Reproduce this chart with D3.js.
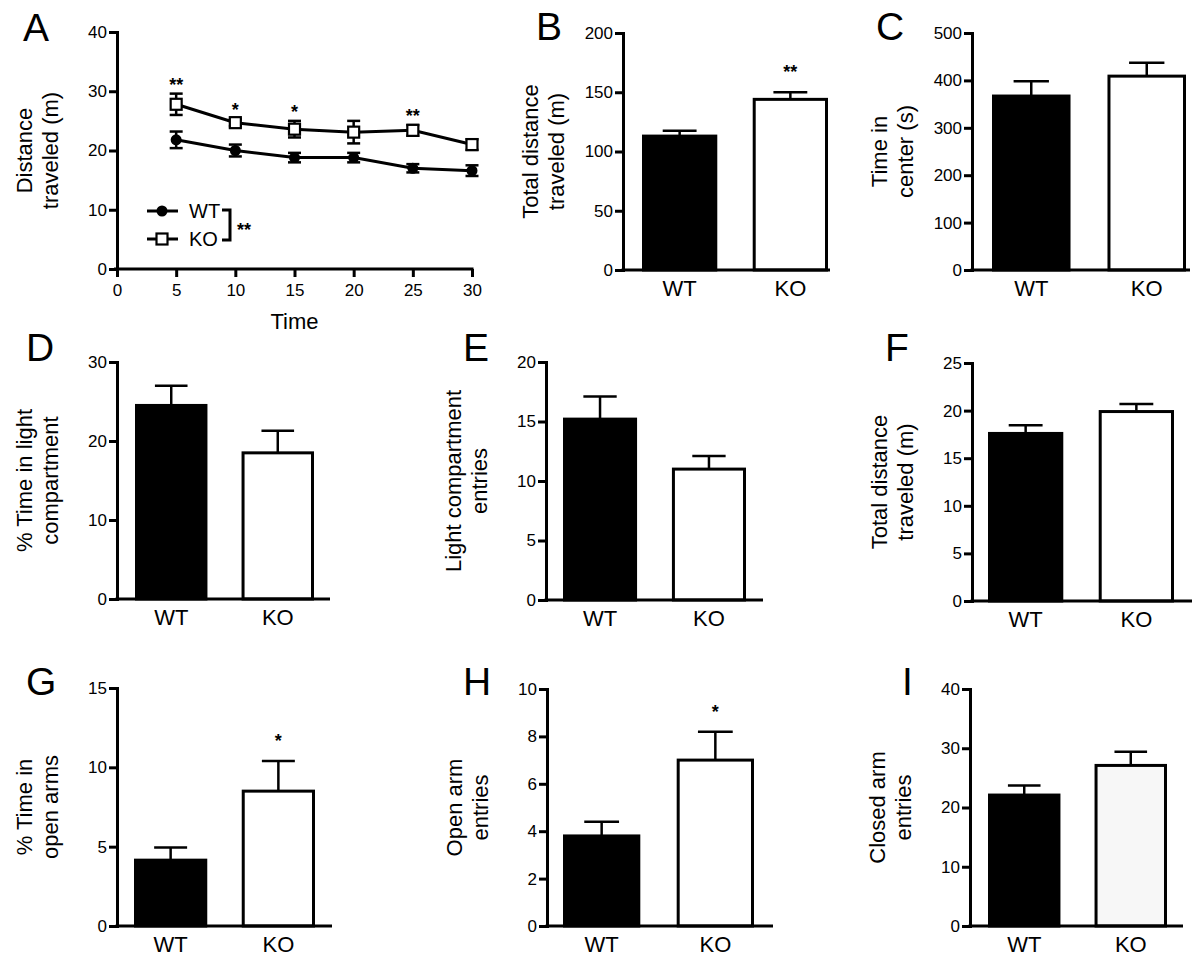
<!DOCTYPE html>
<html>
<head>
<meta charset="utf-8">
<script src="https://cdn.jsdelivr.net/npm/d3@7"></script>
<style>
  html, body { margin: 0; padding: 0; background: #fff; }
  svg { display: block; font-family: "Liberation Sans", Arial, Helvetica, sans-serif; }
</style>
</head>
<body>
<svg id="chart" width="1200" height="968"></svg>
<script>
// ---------------- DATA ----------------
const groups = ["WT", "KO"];

// Panel A: open field distance over time
const timeTicks = [0, 5, 10, 15, 20, 25, 30];
const yTicksA = [0, 10, 20, 30, 40];
const timePoints = [5, 10, 15, 20, 25, 30];
const wtDistance = [21.8, 20.0, 18.8, 18.8, 17.0, 16.6];
const wtDistanceErr = [1.4, 1.0, 0.8, 0.8, 0.7, 0.9];
const koDistance = [27.8, 24.7, 23.6, 23.1, 23.4, 21.0];
const koDistanceErr = [1.8, 0.6, 1.4, 1.9, 0.9, 0.9];
const timeStars = ["**", "*", "*", "", "**", ""];

// Panel B
const totalDistanceOF = [113, 144];
const totalDistanceOFErr = [4.5, 6];
const ticksB = [0, 50, 100, 150, 200];
const starsB = ["", "**"];
// Panel C
const timeInCenter = [367, 409];
const timeInCenterErr = [31, 28];
const ticksC = [0, 100, 200, 300, 400, 500];
// Panel D
const pctTimeLight = [24.5, 18.5];
const pctTimeLightErr = [2.5, 2.8];
const ticksD = [0, 10, 20, 30];
// Panel E
const lightEntries = [15.2, 11.0];
const lightEntriesErr = [1.9, 1.1];
const ticksE = [0, 5, 10, 15, 20];
// Panel F
const totalDistanceLD = [17.6, 19.9];
const totalDistanceLDErr = [0.85, 0.8];
const ticksF = [0, 5, 10, 15, 20, 25];
// Panel G
const pctTimeOpen = [4.15, 8.5];
const pctTimeOpenErr = [0.8, 1.9];
const ticksG = [0, 5, 10, 15];
const starsG = ["", "*"];
// Panel H
const openArmEntries = [3.8, 7.0];
const openArmEntriesErr = [0.6, 1.2];
const ticksH = [0, 2, 4, 6, 8, 10];
const starsH = ["", "*"];
// Panel I
const closedArmEntries = [22.1, 27.1];
const closedArmEntriesErr = [1.6, 2.3];
const ticksI = [0, 10, 20, 30, 40];

// ---------------- LAYOUT ----------------
const svg = d3.select("#chart");
const AXIS_W = 3, TICK = 8;
const TICK_FONT = 17, LABEL_FONT = 22, CAT_FONT = 22, LETTER_FONT = 39;

function styleAxis(g, fontSize) {
  g.select(".domain").attr("stroke", "#000").attr("stroke-width", AXIS_W).attr("stroke-linecap", "square");
  g.selectAll(".tick line").attr("stroke", "#000").attr("stroke-width", AXIS_W);
  g.selectAll(".tick text").attr("fill", "#000").style("font-size", fontSize + "px");
}

function yLabel(x0, top, bottom, lines) {
  const cy = (top + bottom) / 2;
  const g = svg.append("g");
  lines.forEach((t, i) => {
    const bx = x0 - 59 - (lines.length - 1 - i) * 26;
    g.append("text")
      .attr("transform", `translate(${bx},${cy}) rotate(-90)`)
      .attr("text-anchor", "middle")
      .style("font-size", LABEL_FONT + "px")
      .text(t);
  });
}

function letter(x, y, t) {
  svg.append("text").attr("x", x).attr("y", y)
    .style("font-size", LETTER_FONT + "px").text(t);
}

function barPanel(cfg, values, errs, ticks, stars, labelLines) {
  const y = d3.scaleLinear().domain([ticks[0], ticks[ticks.length - 1]]).range([cfg.bottom, cfg.top]);
  const x = d3.scaleBand().domain(groups).range(cfg.band).paddingInner(0.32).paddingOuter(0);
  const bw = x.bandwidth();
  const g = svg.append("g");

  // bars
  g.selectAll("rect.bar").data(groups).join("rect")
    .attr("class", "bar")
    .attr("x", d => x(d) + 1.5)
    .attr("width", bw - 3)
    .attr("y", (d, i) => y(values[i]))
    .attr("height", (d, i) => cfg.bottom - y(values[i]))
    .attr("fill", (d, i) => i === 0 ? "#000" : (cfg.koFill || "#fff"))
    .attr("stroke", "#000").attr("stroke-width", 3);

  // error bars (upper only)
  const capW = bw * 0.45;
  groups.forEach((d, i) => {
    const cx = x(d) + bw / 2;
    const yt = y(values[i] + errs[i]);
    g.append("line").attr("x1", cx).attr("x2", cx).attr("y1", y(values[i])).attr("y2", yt)
      .attr("stroke", "#000").attr("stroke-width", 2.5);
    g.append("line").attr("x1", cx - capW / 2).attr("x2", cx + capW / 2).attr("y1", yt).attr("y2", yt)
      .attr("stroke", "#000").attr("stroke-width", 2.5);
    if (stars && stars[i]) {
      g.append("text").attr("x", cx).attr("y", yt - 22 + 8)
        .attr("text-anchor", "middle").style("font-size", "18px").style("font-weight", "bold").text(stars[i]);
    }
  });

  // x baseline
  g.append("line").attr("x1", cfg.x0 - 1.5).attr("x2", cfg.x1).attr("y1", cfg.bottom).attr("y2", cfg.bottom)
    .attr("stroke", "#000").attr("stroke-width", AXIS_W);

  // y axis
  const ya = g.append("g").attr("transform", `translate(${cfg.x0},0)`)
    .call(d3.axisLeft(y).tickValues(ticks).tickSize(TICK).tickSizeOuter(0).tickPadding(2));
  styleAxis(ya, TICK_FONT);

  // categories
  const xa = g.append("g").attr("transform", `translate(0,${cfg.bottom})`)
    .call(d3.axisBottom(x).tickSize(0).tickPadding(10));
  xa.select(".domain").remove();
  xa.selectAll(".tick text").attr("fill", "#000").style("font-size", CAT_FONT + "px");

  yLabel(cfg.x0, cfg.top, cfg.bottom, labelLines);
  letter(cfg.lx, cfg.ly, cfg.letter);
}

// ---------------- PANEL A ----------------
(function () {
  const x0 = 117, x1 = 472, top = 32, bottom = 269;
  const x = d3.scaleLinear().domain([0, 30]).range([x0, x1]);
  const y = d3.scaleLinear().domain([0, 40]).range([bottom, top]);
  const g = svg.append("g");

  const series = [
    { vals: wtDistance, errs: wtDistanceErr, kind: "circle" },
    { vals: koDistance, errs: koDistanceErr, kind: "square" }
  ];

  // error bars
  series.forEach(s => {
    timePoints.forEach((t, i) => {
      const cx = x(t), yl = y(s.vals[i] - s.errs[i]), yh = y(s.vals[i] + s.errs[i]);
      g.append("line").attr("x1", cx).attr("x2", cx).attr("y1", yl).attr("y2", yh).attr("stroke", "#000").attr("stroke-width", 2.5);
      [yl, yh].forEach(yy => g.append("line").attr("x1", cx - 6.5).attr("x2", cx + 6.5).attr("y1", yy).attr("y2", yy).attr("stroke", "#000").attr("stroke-width", 2.5));
    });
  });

  // lines
  const line = d3.line().x((d, i) => x(timePoints[i])).y(d => y(d));
  series.forEach(s => {
    g.append("path").datum(s.vals).attr("d", line).attr("fill", "none").attr("stroke", "#000").attr("stroke-width", 3);
  });

  // markers
  g.selectAll("circle.wt").data(wtDistance).join("circle").attr("class", "wt")
    .attr("cx", (d, i) => x(timePoints[i])).attr("cy", d => y(d)).attr("r", 5.5).attr("fill", "#000");
  g.selectAll("rect.ko").data(koDistance).join("rect").attr("class", "ko")
    .attr("x", (d, i) => x(timePoints[i]) - 5.5).attr("y", d => y(d) - 5.5)
    .attr("width", 11).attr("height", 11).attr("fill", "#fff").attr("stroke", "#000").attr("stroke-width", 2.2);

  // stars
  timePoints.forEach((t, i) => {
    if (!timeStars[i]) return;
    const yt = y(koDistance[i] + koDistanceErr[i]);
    g.append("text").attr("x", x(t)).attr("y", yt - 11 + 8).attr("text-anchor", "middle")
      .style("font-size", "18px").style("font-weight", "bold").text(timeStars[i]);
  });

  // axes
  const ya = g.append("g").attr("transform", `translate(${x0},0)`)
    .call(d3.axisLeft(y).tickValues(yTicksA).tickSize(TICK).tickSizeOuter(0).tickPadding(2));
  styleAxis(ya, TICK_FONT);
  const xa = g.append("g").attr("transform", `translate(0,${bottom})`)
    .call(d3.axisBottom(x).tickValues(timeTicks).tickSize(TICK).tickSizeOuter(0).tickPadding(7));
  styleAxis(xa, TICK_FONT);
  xa.select(".domain").attr("d", `M${x0 - 1.5},0H${x1}`);

  g.append("text").attr("x", (x0 + x1) / 2).attr("y", 329).attr("text-anchor", "middle")
    .style("font-size", LABEL_FONT + "px").text("Time");

  // legend
  const lg = g.append("g");
  const legendRows = [{ name: groups[0], kind: "circle", y: 211 }, { name: groups[1], kind: "square", y: 239 }];
  legendRows.forEach(r => {
    lg.append("line").attr("x1", 147).attr("x2", 178).attr("y1", r.y).attr("y2", r.y).attr("stroke", "#000").attr("stroke-width", 3);
    if (r.kind === "circle") lg.append("circle").attr("cx", 162).attr("cy", r.y).attr("r", 5.5).attr("fill", "#000");
    else lg.append("rect").attr("x", 156.5).attr("y", r.y - 5.5).attr("width", 11).attr("height", 11).attr("fill", "#fff").attr("stroke", "#000").attr("stroke-width", 2.2);
    lg.append("text").attr("x", 189).attr("y", r.y + 7).style("font-size", "20px").text(r.name);
  });
  lg.append("path").attr("d", "M222,210H230V240H222").attr("fill", "none").attr("stroke", "#000").attr("stroke-width", 3);
  lg.append("text").attr("x", 237).attr("y", 236).style("font-size", "18px").style("font-weight", "bold").text("**");

  yLabel(x0, top, bottom, ["Distance", "traveled (m)"]);
  letter(23, 41, "A");
})();

// ---------------- BAR PANELS ----------------
barPanel({ x0: 623, x1: 830, top: 33, bottom: 270, band: [642, 828], letter: "B", lx: 536, ly: 40 },
  totalDistanceOF, totalDistanceOFErr, ticksB, starsB, ["Total distance", "traveled (m)"]);
barPanel({ x0: 972, x1: 1190, top: 33, bottom: 270, band: [992, 1186], letter: "C", lx: 876, ly: 40 },
  timeInCenter, timeInCenterErr, ticksC, null, ["Time in", "center (s)"]);
barPanel({ x0: 117, x1: 330, top: 362, bottom: 599, band: [135, 314], letter: "D", lx: 26, ly: 361 },
  pctTimeLight, pctTimeLightErr, ticksD, null, ["% Time in light", "compartment"]);
barPanel({ x0: 546, x1: 763, top: 362, bottom: 600, band: [563, 746], letter: "E", lx: 463, ly: 361 },
  lightEntries, lightEntriesErr, ticksE, null, ["Light compartment", "entries"]);
barPanel({ x0: 972, x1: 1192, top: 363, bottom: 601, band: [988, 1174], letter: "F", lx: 885, ly: 361 },
  totalDistanceLD, totalDistanceLDErr, ticksF, null, ["Total distance", "traveled (m)"]);
barPanel({ x0: 117, x1: 332, top: 688, bottom: 926, band: [134, 315], letter: "G", lx: 26, ly: 695 },
  pctTimeOpen, pctTimeOpenErr, ticksG, starsG, ["% Time in", "open arms"]);
barPanel({ x0: 547, x1: 773, top: 689, bottom: 926, band: [563, 754], letter: "H", lx: 463, ly: 695 },
  openArmEntries, openArmEntriesErr, ticksH, starsH, ["Open arm", "entries"]);
barPanel({ x0: 970, x1: 1183, top: 689, bottom: 926, band: [988, 1167], letter: "I", lx: 902, ly: 695, koFill: "#f7f7f7" },
  closedArmEntries, closedArmEntriesErr, ticksI, null, ["Closed arm", "entries"]);
</script>
</body>
</html>
